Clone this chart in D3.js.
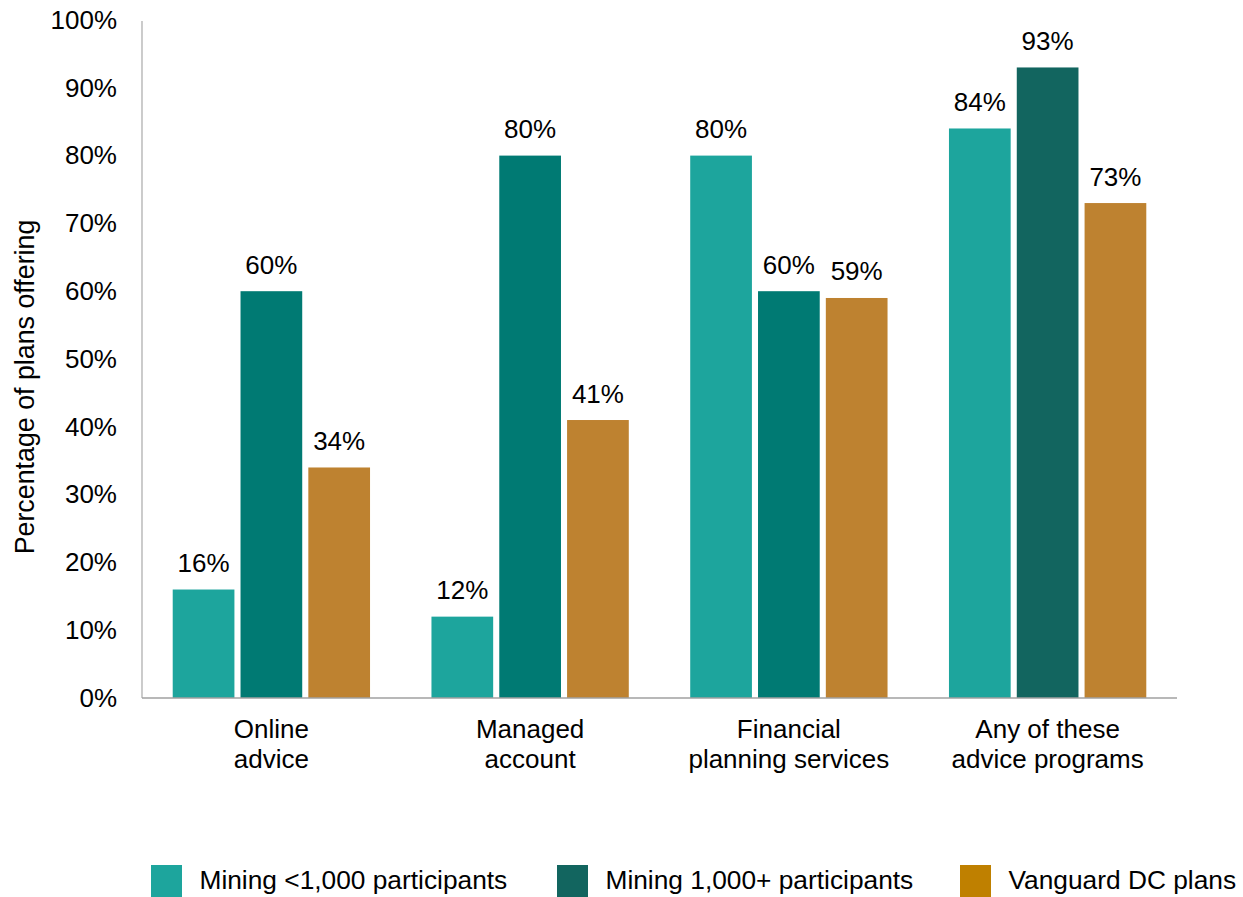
<!DOCTYPE html>
<html>
<head>
<meta charset="utf-8">
<script src="https://cdn.jsdelivr.net/npm/d3@7"></script>
<style>
  html, body { margin: 0; padding: 0; background: #fff; }
  svg { display: block; font-family: "Liberation Sans", Arial, sans-serif; }
</style>
</head>
<body>
<svg id="chart" width="1243" height="897"></svg>
<script>
// ---- data ----
const categories = [["Online", "advice"], ["Managed", "account"], ["Financial", "planning services"], ["Any of these", "advice programs"]];
const seriesNames = ["Mining <1,000 participants", "Mining 1,000+ participants", "Vanguard DC plans"];
const miningSmall = [16, 12, 80, 84];
const miningLarge = [60, 80, 60, 93];
const vanguardDC = [34, 41, 59, 73];
const yTicks = [0, 10, 20, 30, 40, 50, 60, 70, 80, 90, 100];

// ---- styles ----
const barColors = [
  ["#1DA59D", "#1DA59D", "#1DA59D", "#1DA59D"],
  ["#007A73", "#007A73", "#007A73", "#12655F"],
  ["#BE8230", "#BE8230", "#BE8230", "#BE8230"]
];
const legendColors = ["#1DA59D", "#12655F", "#BF8000"];
const FS = 26;

const seriesValues = [miningSmall, miningLarge, vanguardDC];
const catKeys = categories.map(c => c.join(" "));

const svg = d3.select("#chart");
const margin = { left: 142, right: 1177, top: 20, bottom: 698 };

const x0 = d3.scaleBand().domain(catKeys).range([margin.left, margin.right]).padding(0);
const x1 = d3.scaleBand().domain(seriesNames).range([0, x0.bandwidth()])
  .paddingInner(0.09).paddingOuter(0.453);
const y = d3.scaleLinear().domain([0, 100]).range([margin.bottom, margin.top]);

// y axis tick labels
const yAxis = d3.axisLeft(y).tickValues(yTicks).tickSize(0).tickPadding(25).tickFormat(d => d + "%");
const gy = svg.append("g").attr("transform", `translate(${margin.left},0)`).call(yAxis);
gy.select(".domain").remove();
gy.selectAll("text").attr("font-size", FS).attr("fill", "#000").attr("font-family", "Liberation Sans, Arial, sans-serif");

// bars
seriesNames.forEach((s, si) => {
  const g = svg.append("g");
  g.selectAll("rect").data(seriesValues[si]).join("rect")
    .attr("x", (d, i) => x0(catKeys[i]) + x1(s))
    .attr("y", d => y(d))
    .attr("width", x1.bandwidth())
    .attr("height", d => y(0) - y(d))
    .attr("fill", (d, i) => barColors[si][i]);
  g.selectAll("text").data(seriesValues[si]).join("text")
    .attr("x", (d, i) => x0(catKeys[i]) + x1(s) + x1.bandwidth() / 2)
    .attr("y", d => y(d) - 17.5)
    .attr("text-anchor", "middle")
    .attr("font-size", FS)
    .attr("fill", "#000")
    .text(d => d + "%");
});

// axis lines
svg.append("line").attr("x1", margin.left).attr("x2", margin.left)
  .attr("y1", y(100) + 1).attr("y2", y(0)).attr("stroke", "#B0B0B0").attr("stroke-width", 1.3);
svg.append("line").attr("x1", margin.left).attr("x2", margin.right)
  .attr("y1", y(0)).attr("y2", y(0)).attr("stroke", "#A0A0A0").attr("stroke-width", 1.3);

// category labels
const xl = svg.append("g");
categories.forEach((c, i) => {
  const t = xl.append("text")
    .attr("x", x0(catKeys[i]) + x0.bandwidth() / 2)
    .attr("y", 738)
    .attr("text-anchor", "middle")
    .attr("font-size", FS)
    .attr("fill", "#000");
  c.forEach((line, li) => {
    t.append("tspan").attr("x", x0(catKeys[i]) + x0.bandwidth() / 2)
      .attr("dy", li === 0 ? 0 : 29.5).text(line);
  });
});

// y title
svg.append("text")
  .attr("transform", "translate(34,387) rotate(-90)")
  .attr("text-anchor", "middle")
  .attr("font-size", 26.8)
  .attr("fill", "#000")
  .text("Percentage of plans offering");

// legend
const legendX = [151, 557, 960];
const legend = svg.append("g");
seriesNames.forEach((s, i) => {
  legend.append("rect").attr("x", legendX[i]).attr("y", 865).attr("width", 31).attr("height", 32)
    .attr("fill", legendColors[i]);
  legend.append("text").attr("x", legendX[i] + 48.5).attr("y", 889)
    .attr("font-size", 26.3).attr("fill", "#000").text(s);
});
</script>
</body>
</html>
